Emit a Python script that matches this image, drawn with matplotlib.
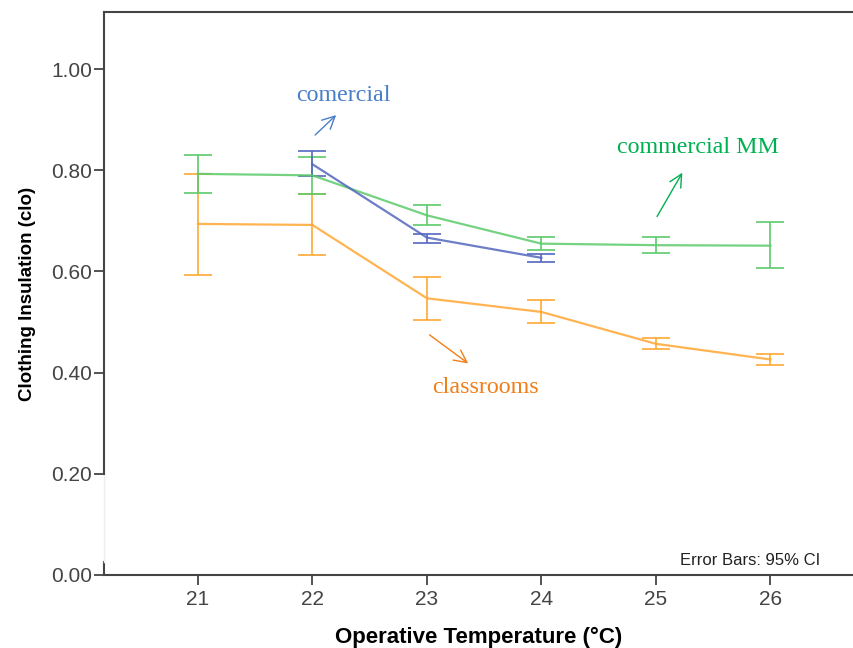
import matplotlib
matplotlib.use('Agg')
import matplotlib.pyplot as plt
import numpy as np

# Mean clothing insulation (clo) with 95% CI bounds per operative temperature
temps_class = [21, 22, 23, 24, 25, 26]
class_mean = [0.694, 0.692, 0.547, 0.520, 0.457, 0.426]
class_low = [0.594, 0.632, 0.504, 0.499, 0.446, 0.416]
class_high = [0.792, 0.754, 0.590, 0.543, 0.469, 0.437]

temps_mm = [21, 22, 23, 24, 25, 26]
mm_mean = [0.793, 0.790, 0.711, 0.655, 0.652, 0.651]
mm_low = [0.756, 0.754, 0.692, 0.642, 0.636, 0.606]
mm_high = [0.830, 0.827, 0.731, 0.669, 0.669, 0.698]

temps_com = [22, 23, 24]
com_mean = [0.812, 0.667, 0.627]
com_low = [0.789, 0.657, 0.619]
com_high = [0.838, 0.675, 0.634]

x_ticks = [21, 22, 23, 24, 25, 26]
y_ticks = [0.0, 0.2, 0.4, 0.6, 0.8, 1.0]

plt.rcParams['font.family'] = ['Liberation Sans', 'DejaVu Sans']

fig = plt.figure(figsize=(8.54, 6.48), dpi=100)
ax = fig.add_axes([0.1218, 0.1127, 0.8782, 0.8688])

series = [
    (temps_class, class_mean, class_low, class_high, '#FFA733'),
    (temps_mm, mm_mean, mm_low, mm_high, '#5CCB6A'),
    (temps_com, com_mean, com_low, com_high, '#5468BE'),
]
for t, m, lo, hi, c in series:
    m = np.array(m)
    yerr = [m - np.array(lo), np.array(hi) - m]
    ax.errorbar(t, m, yerr=yerr, color=c, lw=1.6, elinewidth=1.4,
                capsize=10, capthick=1.4, alpha=0.85)

ax.set_xlim(20.18, 26.73)
ax.set_ylim(0, 1.113)
ax.set_xticks(x_ticks)
ax.set_yticks(y_ticks)
ax.set_yticklabels([f'{v:.2f}' for v in y_ticks])
ax.tick_params(axis='both', direction='out', length=7.2, width=1.3,
               color='#444444', labelcolor='#444444', labelsize=15)
ax.tick_params(axis='x', pad=3.5)
ax.tick_params(axis='y', pad=1.5)

for side in ['top', 'bottom', 'left']:
    ax.spines[side].set_color('#444444')
    ax.spines[side].set_linewidth(1.5)
ax.spines['right'].set_visible(False)
ax.spines['left'].set_bounds(0.2, 1.113)
ax.plot([0, 0], [0, 0.026], transform=ax.get_yaxis_transform(),
        color='#444444', lw=1.5, clip_on=False)
ax.plot([0, 0], [0.026, 0.2], transform=ax.get_yaxis_transform(),
        color='#eeeeee', lw=1.0, clip_on=False)

ax.set_xlabel('Operative Temperature (°C)', fontsize=16, fontweight='bold',
              labelpad=13)
ax.set_ylabel('Clothing Insulation (clo)', fontsize=13.5, fontweight='bold',
              labelpad=11)

ax.text(0.955, 0.012, 'Error Bars: 95% CI', transform=ax.transAxes,
        ha='right', va='bottom', fontsize=12, color='#222222')

serif = ['Liberation Serif', 'DejaVu Serif']
arrow = '->,head_length=0.9,head_width=0.45'
ax.annotate('', xy=(22.225, 0.913), xytext=(22.006, 0.866),
            arrowprops=dict(arrowstyle=arrow, color='#4A7EC9', lw=1.0))
ax.text(22.27, 0.947, 'comercial', color='#4A7EC9', fontsize=17.3,
        family=serif, ha='center', va='center')

ax.annotate('', xy=(25.243, 0.800), xytext=(24.998, 0.704),
            arrowprops=dict(arrowstyle=arrow, color='#00B050', lw=1.0))
ax.text(25.366, 0.846, 'commercial MM', color='#00B050', fontsize=17.3,
        family=serif, ha='center', va='center')

ax.annotate('', xy=(23.38, 0.415), xytext=(23.003, 0.478),
            arrowprops=dict(arrowstyle=arrow, color='#F07F1A', lw=1.0))
ax.text(23.51, 0.370, 'classrooms', color='#F07F1A', fontsize=17.3,
        family=serif, ha='center', va='center')

plt.savefig('out.png', dpi=100)
plt.close()
